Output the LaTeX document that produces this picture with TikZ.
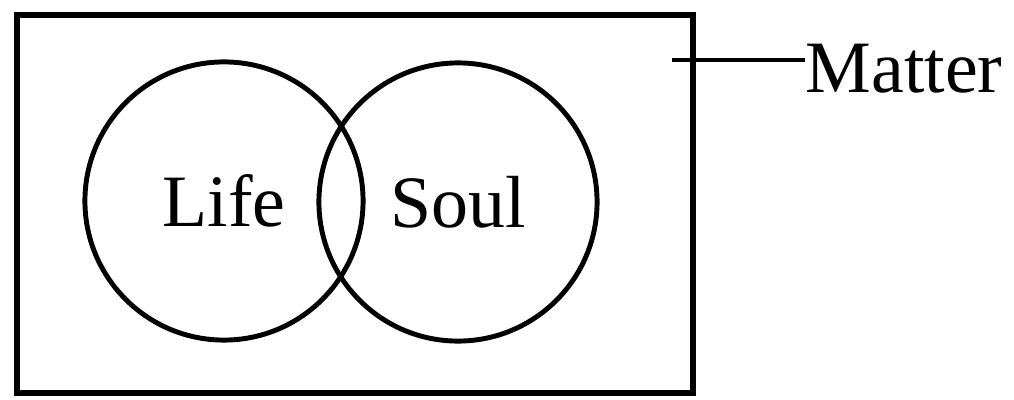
\documentclass[tikz,border=0pt]{standalone}
\usepackage{fontspec}
\setmainfont{Liberation Serif}
\usetikzlibrary{positioning,calc}

\begin{document}
\begin{tikzpicture}[x=0.01cm, y=-0.01cm,
    setbox/.style={draw, line width=1.7pt, rectangle, minimum width=6.76cm, minimum height=3.78cm, inner sep=0pt},
    setcircle/.style={draw, line width=1.4pt, circle, minimum size=2.78cm, inner sep=0pt, font=\fontsize{21}{25}\selectfont},
    setlabel/.style={inner sep=0pt, font=\fontsize{21}{25}\selectfont}]
    \useasboundingbox (0,0) rectangle (1014,400);
    % universe: matter
    \node[setbox] (box) at (355,204) {};
    \node[setcircle] (life) at (224,201) {Life};
    \node[setcircle] (soul) at (458,202) {Soul};
    % leader to label
    \coordinate (lead) at (672,60);
    \node[setlabel, anchor=base west] (matter) at (805,92) {Matter};
    \draw[line width=1.4pt] (lead) -- (lead -| matter.west);
\end{tikzpicture}
\end{document}
